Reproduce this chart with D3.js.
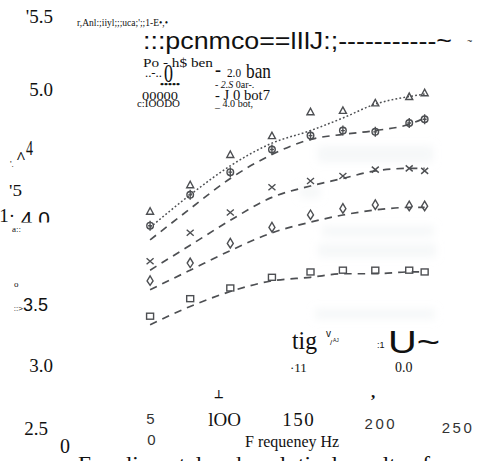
<!DOCTYPE html>
<html>
<head>
<meta charset="utf-8">
<script src="https://cdn.jsdelivr.net/npm/d3@7"></script>
<style>
  html, body { margin: 0; padding: 0; background: #fff; }
  svg { display: block; }
  .serif { font-family: "Liberation Serif", "Times New Roman", serif; }
  .sans { font-family: "Liberation Sans", Arial, sans-serif; }
</style>
</head>
<body>
<svg id="chart" width="480" height="461"></svg>
<script>
// Excitation frequency of each measurement (Hz)
const freqHz = [52, 78, 104, 131, 156, 177, 198, 220, 230];

// Measured points, one array per marker type
const measTriangle = [4.03, 4.24, 4.48, 4.63, 4.82, 4.83, 4.89, 4.94, 4.97];
const measRing     = [3.94, 4.16, 4.34, 4.52, 4.63, 4.67, 4.66, 4.73, 4.76];
const measCross    = [3.74, 3.90, 4.02, 4.22, 4.27, 4.31, 4.36, 4.37, 4.35];
const measDiamond  = [3.63, 3.73, 3.84, 3.93, 4.00, 4.05, 4.08, 4.07, 4.07];
const measSquare   = [3.40, 3.53, 3.59, 3.65, 3.68, 3.69, 3.69, 3.69, 3.68];

// Analytical curves at the same frequencies
const calcDotted  = [3.93, 4.16, 4.39, 4.57, 4.67, 4.77, 4.88, 4.94, 4.96];
const calcRing    = [3.86, 4.05, 4.29, 4.48, 4.60, 4.64, 4.67, 4.72, 4.77];
const calcCross   = [3.69, 3.83, 3.97, 4.14, 4.23, 4.29, 4.35, 4.37, 4.37];
const calcDiamond = [3.58, 3.69, 3.80, 3.90, 3.96, 4.00, 4.04, 4.06, 4.06];
const calcSquare  = [3.33, 3.48, 3.57, 3.63, 3.65, 3.67, 3.67, 3.68, 3.68];

// Axis ticks
const yTickValues = [5.5, 5.0, 4.0, 3.5, 3.0, 2.5];
const yTickLabels = ["'5.5", "5.0", "1· 4 0", "::>3.5", "3.0", "2.5"];
const xTickValues = [50, 100, 150, 200, 250];
const xTickLabels = ["5", "lOO", "150", "200", "250"];
const xAxisTitle = "F requeney Hz";

const svg = d3.select("#chart");
const ink = "#111";
const plotInk = "#4d4f52";

// Scales (the y axis is printed with uneven tick spacing)
const x = d3.scaleLinear().domain([50, 250]).range([147, 455.5]);
const y = d3.scaleLinear()
  .domain([2.5, 3.0, 3.5, 4.0, 5.0, 5.5])
  .range([428, 365, 304, 215, 89, 16]);

const defs = svg.append("defs");
defs.append("filter").attr("id", "soft")
  .attr("x", "-10%").attr("y", "-10%").attr("width", "120%").attr("height", "120%")
  .append("feGaussianBlur").attr("stdDeviation", 0.45);
defs.append("filter").attr("id", "haze")
  .attr("x", "-20%").attr("y", "-60%").attr("width", "140%").attr("height", "220%")
  .append("feGaussianBlur").attr("stdDeviation", 4);
defs.append("clipPath").attr("id", "cut40")
  .append("rect").attr("x", -70).attr("y", -40).attr("width", 90).attr("height", 47);

// faint show-through of the printed page behind the plot
const bands = [[318, 146, 115, 16], [322, 226, 112, 10], [318, 244, 118, 13], [315, 309, 120, 10], [300, 186, 20, 12]];
svg.append("g").attr("filter", "url(#haze)")
  .selectAll("rect").data(bands).join("rect")
  .attr("x", d => d[0]).attr("y", d => d[1]).attr("width", d => d[2]).attr("height", d => d[3])
  .attr("fill", "#e6eaee").attr("opacity", 0.4);

// ---- plot: curves and measured markers ----
const plot = svg.append("g").attr("filter", "url(#soft)");
const line = d3.line().x(d => x(d[0])).y(d => y(d[1])).curve(d3.curveMonotoneX);
const pairs = vals => freqHz.map((f, i) => [f, vals[i]]);

plot.append("path").datum(pairs(calcDotted)).attr("d", line)
  .attr("fill", "none").attr("stroke", plotInk).attr("stroke-width", 1.5)
  .attr("stroke-dasharray", "1.8,2.2");
[calcRing, calcCross, calcDiamond, calcSquare].forEach(vals => {
  plot.append("path").datum(pairs(vals)).attr("d", line)
    .attr("fill", "none").attr("stroke", plotInk).attr("stroke-width", 1.7)
    .attr("stroke-dasharray", "7.5,6");
});

const markerStyle = sel => sel.attr("fill", "none").attr("stroke", plotInk).attr("stroke-width", 1.4);

// triangles
markerStyle(plot.append("g").selectAll("path").data(pairs(measTriangle)).join("path")
  .attr("d", d => {
    const cx = x(d[0]), cy = y(d[1]);
    return `M${cx - 3.5},${cy + 3}L${cx},${cy - 3.5}L${cx + 3.5},${cy + 3}Z`;
  }));
// rings with a bar
const rings = plot.append("g").selectAll("g").data(pairs(measRing)).join("g")
  .attr("transform", d => `translate(${x(d[0])},${y(d[1])})`);
markerStyle(rings.append("circle").attr("r", 3.3));
markerStyle(rings.append("path").attr("d", "M0,-5V5M-2,0H2"));
// crosses
markerStyle(plot.append("g").selectAll("path").data(pairs(measCross)).join("path")
  .attr("d", d => {
    const cx = x(d[0]), cy = y(d[1]);
    return `M${cx - 3.5},${cy - 3}L${cx + 3.5},${cy + 3}M${cx - 3.5},${cy + 3}L${cx + 3.5},${cy - 3}`;
  }));
// narrow diamonds
markerStyle(plot.append("g").selectAll("path").data(pairs(measDiamond)).join("path")
  .attr("d", d => {
    const cx = x(d[0]), cy = y(d[1]);
    return `M${cx},${cy - 5}L${cx + 3},${cy}L${cx},${cy + 4.5}L${cx - 3},${cy}Z`;
  }));
// squares
markerStyle(plot.append("g").selectAll("rect").data(pairs(measSquare)).join("rect")
  .attr("x", d => x(d[0]) - 3.5).attr("y", d => y(d[1]) - 3)
  .attr("width", 7).attr("height", 6));

// ---- y axis ----
const yAxis = svg.append("g").attr("transform", "translate(53,0)")
  .call(d3.axisLeft(y).tickValues(yTickValues)
    .tickFormat((d, i) => yTickLabels[i]).tickSize(0).tickPadding(0));
yAxis.select(".domain").remove();
yAxis.selectAll(".tick text")
  .attr("class", "serif").attr("font-size", 19).attr("fill", ink)
  .attr("dy", 6.5).attr("font-family", null)
  .each(function (d) {
    const t = d3.select(this);
    if (d === 2.5) t.attr("dx", -5);
    if (d === 3.5) {
      t.text(null).attr("dx", -5);
      t.append("tspan").attr("class", "sans").attr("font-size", 8).text("::>");
      t.append("tspan").attr("class", "sans").attr("font-size", 18).text("3.5");
    }
    if (d === 4.0) {
      t.text(null).attr("dx", -3).attr("clip-path", "url(#cut40)");
      t.append("tspan").attr("font-size", 19).text("1·");
      t.append("tspan").attr("class", "sans").attr("font-size", 21).attr("dy", 4).text(" 4 0");
    }
  });

// ---- x axis ----
const xAxis = svg.append("g")
  .call(d3.axisBottom(x).tickValues(xTickValues)
    .tickFormat((d, i) => xTickLabels[i]).tickSize(0).tickPadding(0));
xAxis.select(".domain").remove();
xAxis.selectAll(".tick text")
  .attr("fill", ink).attr("font-family", null).attr("dy", 0)
  .each(function (d) {
    const t = d3.select(this);
    if (d === 50) {
      t.attr("class", "sans").attr("font-size", 15).attr("fill", "#333")
        .attr("y", 424).attr("dx", 3);
      t.append("tspan").attr("x", 0).attr("dx", 4).attr("dy", 21).text("0");
    } else if (d === 100 || d === 150) {
      t.attr("class", "serif").attr("font-size", 19).attr("y", 426)
        .attr("letter-spacing", d === 150 ? 1.5 : 0).attr("dx", d === 150 ? -3 : 0);
    } else {
      t.attr("class", "sans").attr("font-size", 15).attr("fill", "#333")
        .attr("letter-spacing", 2.5).attr("y", d === 200 ? 429 : 433).attr("dx", 2);
    }
  });

svg.append("text").attr("class", "serif").attr("x", 245).attr("y", 447)
  .attr("font-size", 16).attr("fill", ink).text(xAxisTitle);

// ---- scattered text fragments ----
const frag = (txt, px, py, size, cls, opts = {}) => {
  const t = svg.append("text").attr("class", cls).attr("x", px).attr("y", py)
    .attr("font-size", size).attr("fill", opts.fill || ink).text(txt);
  if (opts.len) t.attr("textLength", opts.len).attr("lengthAdjust", "spacingAndGlyphs");
  if (opts.weight) t.attr("font-weight", opts.weight);
  if (opts.style) t.attr("font-style", opts.style);
  if (opts.anchor) t.attr("text-anchor", opts.anchor);
  return t;
};

// header
frag("r,Anl:;iiyl;;;uca;';;1-E•,•", 77, 26, 11, "serif", { len: 91 });
frag(":::pcnmco==lIlJ:;-----------~", 143, 48.5, 24, "sans", { len: 309 });
frag("~", 467, 44, 9, "sans");

// legend block
frag("Po - h$ ben", 143, 67, 12, "serif", { len: 70 });
frag("..-..", 145, 77, 13, "serif", { len: 17 });
frag("0", 164, 82, 26, "serif", { len: 9 });
frag("-", 215, 76, 18, "serif", { weight: "bold" });
frag("2.0", 227, 77, 13, "serif", { len: 14 });
frag("ban", 246, 78, 22, "serif", { len: 25 });
frag("•••••", 160, 87, 8, "serif", { len: 20, weight: "bold" });
const l2 = frag("- ", 215, 88, 10, "serif");
l2.append("tspan").attr("font-style", "italic").text("2.S");
l2.append("tspan").text(" 0ar-.");
frag("00000", 142, 100, 13, "serif", { len: 36 });
frag("- J 0 bot7", 215, 100, 14, "serif", { len: 55 });
frag("c:IOODO", 137, 107, 10, "serif", { len: 43 });
frag("_ 4.0 bot,", 215, 107, 10, "serif", { len: 38 });

// left margin
frag("^", 16, 163, 17, "serif", { weight: "bold" });
frag("4", 26, 155, 20, "serif", { len: 7 });
frag("'.", 10, 167, 9, "serif");
frag("'5", 9, 196, 17, "serif", { len: 13 });
frag("a::", 12, 232, 9, "serif");
frag("o", 14, 287, 9, "serif");

// under the plot
frag("tig", 292, 349, 26, "serif", { len: 25 });
frag("v", 326, 337, 10, "sans");
frag("/", 330, 345, 8, "sans");
frag("AJ", 333, 342, 5, "sans");
frag(":1", 377, 348, 9, "sans");
frag("U~", 388, 353, 32, "sans", { len: 52 });
frag("·11", 290, 372, 13, "serif");
frag("0.0", 395, 372, 14, "serif");
frag("⊥", 214, 398, 11, "sans", { weight: "bold" });
frag(",", 371, 398, 17, "serif", { weight: "bold" });

// bottom line
frag("0", 60, 453, 20, "serif");
frag("Expelimental and analytical results of", 78, 471, 21, "serif", { len: 352 });
</script>
</body>
</html>
